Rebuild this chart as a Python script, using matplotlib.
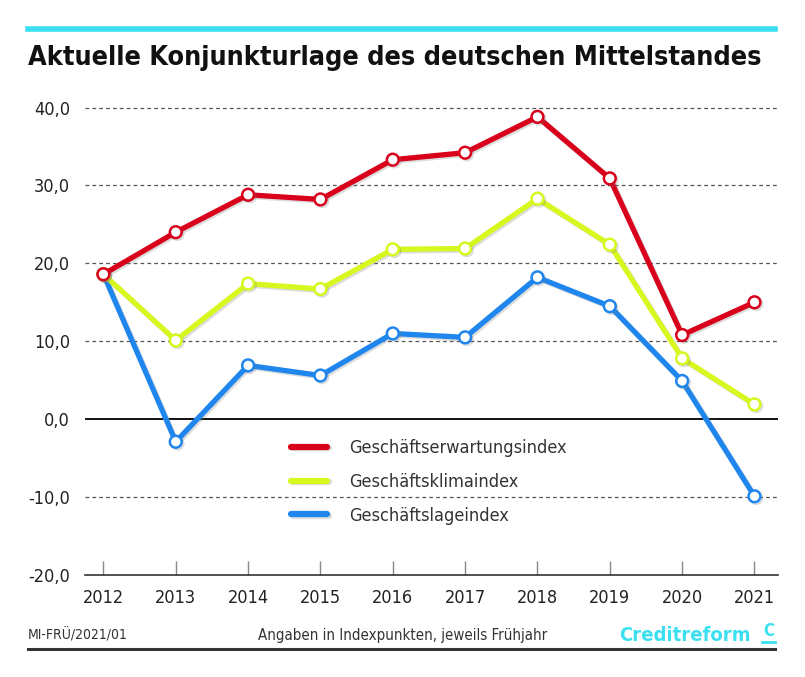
import matplotlib.pyplot as plt
import matplotlib.patheffects as pe
from matplotlib.lines import Line2D

years = [2012, 2013, 2014, 2015, 2016, 2017, 2018, 2019, 2020, 2021]
erwartung = [18.6, 24.0, 28.8, 28.2, 33.3, 34.2, 38.8, 30.9, 10.8, 15.0]
klima = [18.6, 10.1, 17.4, 16.7, 21.8, 21.9, 28.3, 22.4, 7.8, 1.9]
lage = [18.6, -2.9, 6.9, 5.6, 11.0, 10.5, 18.2, 14.5, 4.9, -9.9]
names = ["Geschäftserwartungsindex", "Geschäftsklimaindex", "Geschäftslageindex"]
colors = ["#d9001b", "#d7f71e", "#1f86ee"]
yticks = [-20, -10, 0, 10, 20, 30, 40]

plt.rcParams['font.family'] = ['DejaVu Sans']
plt.rcParams['font.stretch'] = 'condensed'

fig = plt.figure(figsize=(8.05, 6.77), dpi=100)
fig.patch.set_facecolor("white")
ax = fig.add_axes([0.106, 0.1507, 0.86, 0.702])

shadow = [pe.SimpleLineShadow(offset=(1.2, -1.2), alpha=0.25, shadow_color="#777777"), pe.Normal()]

# lage first, erwartung on top
series = [erwartung, klima, lage]
for vals, c, z in zip(series[::-1], colors[::-1], [3, 4, 5]):
    ax.plot(years, vals, color=c, lw=3.8, marker="o", markersize=8.5,
            markerfacecolor="white", markeredgecolor=c, markeredgewidth=1.8,
            zorder=z, path_effects=shadow, solid_joinstyle="round")

for y in yticks:
    if y == 0:
        ax.axhline(y, color="black", lw=1.3, zorder=2)
    elif y != -20:
        ax.axhline(y, color="#555555", lw=0.9, ls=(0, (3, 2.5)), zorder=1)

ax.set_xlim(2011.75, 2021.32)
ax.set_ylim(-20, 41)
ax.set_yticks(yticks)
ax.set_yticklabels([f"{y:.1f}".replace(".", ",") for y in yticks], fontsize=13, color="#222222")
ax.set_xticks(years)
ax.set_xticklabels([str(y) for y in years], fontsize=13, color="#222222")
for s in ["top", "right", "left"]:
    ax.spines[s].set_visible(False)
ax.spines["bottom"].set_color("#333333")
ax.spines["bottom"].set_linewidth(1.2)
ax.tick_params(axis="y", length=0, pad=11)
ax.tick_params(axis="x", direction="in", length=10, width=1, color="#888888", pad=10)
ax.set_facecolor("none")

handles = [Line2D([0], [0], color=c, lw=4.5, solid_capstyle="round", path_effects=shadow)
           for c in colors]
ax.legend(handles, names, loc="center left", bbox_to_anchor=(0.274, 0.196),
          frameon=False, fontsize=13, handlelength=2.0, handletextpad=1.2,
          labelspacing=0.88, labelcolor="#333333")

fig.add_artist(Line2D([0.035, 0.963], [0.957, 0.957], color="#3ae0f0", lw=4))
fig.text(0.035, 0.914, "Aktuelle Konjunkturlage des deutschen Mittelstandes",
         fontsize=19.4, fontweight="bold", color="#111111", va="center")
fig.text(0.035, 0.062, "MI-FRÜ/2021/01", fontsize=10, color="#333333", va="center")
fig.text(0.500, 0.062, "Angaben in Indexpunkten, jeweils Frühjahr", fontsize=10.8,
         color="#333333", va="center", ha="center")
fig.text(0.932, 0.062, "Creditreform", fontsize=14.5, fontweight="bold",
         color="#3ae0f0", va="center", ha="right")
fig.text(0.955, 0.068, "C", fontsize=12, fontweight="bold", color="#3ae0f0",
         va="center", ha="center")
fig.add_artist(Line2D([0.946, 0.963], [0.052, 0.052], color="#3ae0f0", lw=2))
fig.add_artist(Line2D([0.035, 0.963], [0.041, 0.041], color="#333333", lw=2.2))

fig.savefig("out.png", dpi=100)
